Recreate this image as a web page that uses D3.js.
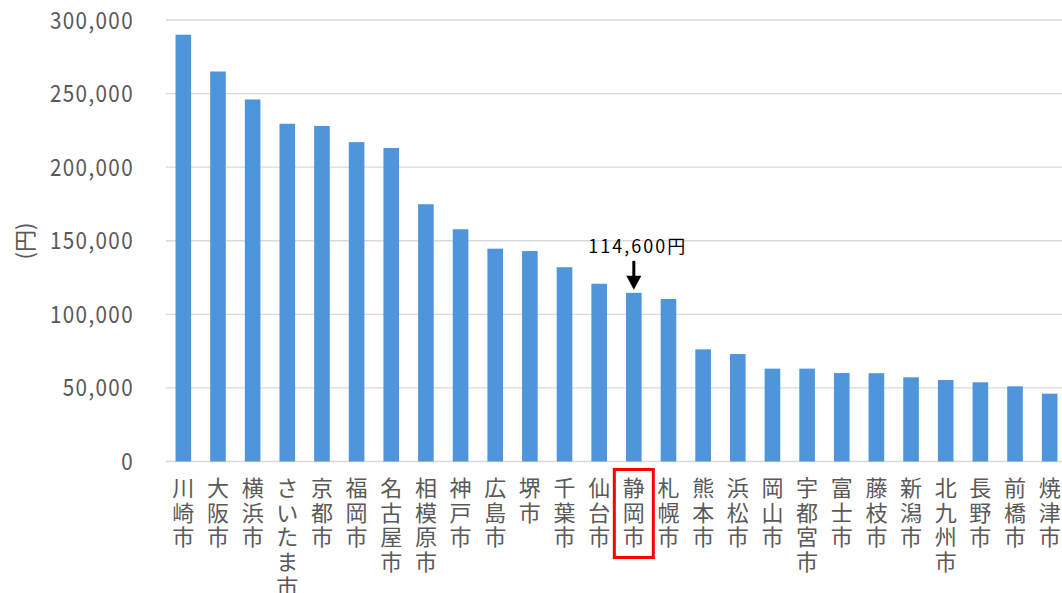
<!DOCTYPE html>
<html>
<head>
<meta charset="utf-8">
<script src="https://cdn.jsdelivr.net/npm/d3@7"></script>
<style>
  html, body { margin: 0; padding: 0; background: #fff; }
  svg { display: block; }
</style>
</head>
<body>
<svg id="chart" width="1062" height="593"></svg>
<script>
// 市区町村別の金額（円）
const cities = ["川崎市","大阪市","横浜市","さいたま市","京都市","福岡市","名古屋市","相模原市","神戸市","広島市","堺市","千葉市","仙台市","静岡市","札幌市","熊本市","浜松市","岡山市","宇都宮市","富士市","藤枝市","新潟市","北九州市","長野市","前橋市","焼津市"];
const amounts = [290000,265000,246000,229500,228000,217000,213000,174800,157800,144600,143000,132000,120800,114600,110400,76200,73000,63100,63100,60100,60000,57200,55400,53800,51100,46100];
const yTicks = [0,50000,100000,150000,200000,250000,300000];
const highlightCity = "静岡市";
const highlightLabel = "114,600円";
const yTitle = "(円)";

const svg = d3.select("#chart");
const grey = "#595959";
const barColor = "#4F95DB";

const x = d3.scaleBand().domain(cities).range([166, 1067]).paddingInner(0.55).paddingOuter(0.275);
const y = d3.scaleLinear().domain([0, 300000]).range([461.5, 20]);

// 目盛線
svg.append("g").selectAll("line").data(yTicks).join("line")
  .attr("x1", 166).attr("x2", 1062)
  .attr("y1", d => y(d)).attr("y2", d => y(d))
  .attr("stroke", "#d9d9d9").attr("stroke-width", 1.4);

// Y軸ラベル
const fmt = d3.format(",");
svg.append("g").selectAll("text").data(yTicks).join("text")
  .attr("transform", d => `translate(134,${y(d) + 8.5}) scale(0.86,1)`)
  .attr("text-anchor", "end")
  .attr("font-family", "'Noto Sans CJK JP', 'Noto Sans', sans-serif")
  .attr("font-size", 24)
  .attr("letter-spacing", 1.6)
  .attr("fill", grey)
  .text(d => fmt(d));

// 軸タイトル
svg.append("text")
  .attr("transform", "translate(33,241) rotate(-90)")
  .attr("text-anchor", "middle")
  .attr("font-family", "'Noto Sans CJK JP', sans-serif")
  .attr("font-size", 22)
  .attr("fill", grey)
  .text(yTitle);

// 棒
svg.append("g").selectAll("rect").data(cities).join("rect")
  .attr("x", d => x(d))
  .attr("width", x.bandwidth())
  .attr("y", (d, i) => y(amounts[i]))
  .attr("height", (d, i) => y(0) - y(amounts[i]))
  .attr("fill", barColor);

// カテゴリラベル（縦書き）
const labels = svg.append("g").selectAll("text").data(cities).join("text")
  .attr("text-anchor", "middle")
  .attr("font-family", "'Noto Sans CJK JP', sans-serif")
  .attr("font-size", 22)
  .attr("fill", grey);
labels.each(function(d) {
  const t = d3.select(this);
  const cx = x(d) + x.bandwidth() / 2;
  Array.from(d).forEach((ch, k) => {
    t.append("tspan").attr("x", cx).attr("y", 496 + k * 24.7).text(ch);
  });
});

// 強調枠
const hi = cities.indexOf(highlightCity);
const hx = x(highlightCity) + x.bandwidth() / 2;
svg.append("rect")
  .attr("x", hx - 19.5).attr("y", 469.5)
  .attr("width", 39).attr("height", 88)
  .attr("fill", "none").attr("stroke", "#ff0000").attr("stroke-width", 3);

// 注記と矢印
const topY = y(amounts[hi]);
svg.append("text")
  .attr("x", hx + 4).attr("y", topY - 40)
  .attr("text-anchor", "middle")
  .attr("font-family", "'Noto Sans CJK JP', sans-serif")
  .attr("font-size", 18)
  .attr("letter-spacing", 2)
  .attr("fill", "#000")
  .text(highlightLabel);
svg.append("line")
  .attr("x1", hx).attr("x2", hx)
  .attr("y1", topY - 32).attr("y2", topY - 16)
  .attr("stroke", "#000").attr("stroke-width", 3);
svg.append("path")
  .attr("d", `M${hx - 7.5},${topY - 17}L${hx + 7.5},${topY - 17}L${hx},${topY - 3}Z`)
  .attr("fill", "#000");
</script>
</body>
</html>
